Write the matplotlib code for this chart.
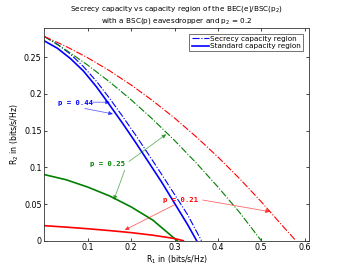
import matplotlib
matplotlib.use("Agg")
from matplotlib import pyplot as plt

# standard capacity regions (solid) and secrecy capacity regions (dash-dot)
r1_std_44 = [0, 0.03, 0.06, 0.09, 0.12, 0.15, 0.18, 0.21, 0.24, 0.27, 0.30, 0.33, 0.351]
r2_std_44 = [0.272, 0.262, 0.248, 0.231, 0.2095, 0.185, 0.160, 0.134, 0.107, 0.080, 0.051, 0.022, 0.0]
r1_sec_44 = [0, 0.03, 0.06, 0.09, 0.12, 0.15, 0.18, 0.21, 0.24, 0.27, 0.30, 0.33, 0.362]
r2_sec_44 = [0.278, 0.2675, 0.254, 0.237, 0.217, 0.194, 0.1695, 0.144, 0.1175, 0.0905, 0.063, 0.0355, 0.0]

r1_std_25 = [0, 0.05, 0.1, 0.15, 0.2, 0.25, 0.306]
r2_std_25 = [0.090, 0.083, 0.073, 0.061, 0.046, 0.028, 0.0]
r1_sec_25 = [0, 0.05, 0.1, 0.15, 0.2, 0.25, 0.3, 0.35, 0.4, 0.45, 0.5]
r2_sec_25 = [0.278, 0.2595, 0.239, 0.2164, 0.1918, 0.1652, 0.1365, 0.1059, 0.0732, 0.0385, 0.0]

r1_std_21 = [0, 0.05, 0.1, 0.15, 0.2, 0.25, 0.3, 0.32]
r2_std_21 = [0.0205, 0.0185, 0.0163, 0.0138, 0.011, 0.0075, 0.003, 0.0]
r1_sec_21 = [0, 0.05, 0.1, 0.15, 0.2, 0.25, 0.3, 0.35, 0.4, 0.45, 0.5, 0.55, 0.58]
r2_sec_21 = [0.278, 0.2645, 0.249, 0.2315, 0.212, 0.1905, 0.167, 0.1415, 0.114, 0.0845, 0.053, 0.0195, 0.0]

blue, green, red = '#0000ff', '#008000', '#ff0000'

fig = plt.figure(figsize=(3.42, 2.72), dpi=100)
ax = fig.add_axes([0.130, 0.115, 0.7735, 0.783])

ax.plot(r1_sec_44, r2_sec_44, '-.', color=blue, lw=0.8, label='Secrecy capacity region')
ax.plot(r1_std_44, r2_std_44, '-', color=blue, lw=1.2, label='Standard capacity region')
ax.plot(r1_sec_25, r2_sec_25, '-.', color=green, lw=0.8)
ax.plot(r1_std_25, r2_std_25, '-', color=green, lw=1.2)
ax.plot(r1_sec_21, r2_sec_21, '-.', color=red, lw=0.8)
ax.plot(r1_std_21, r2_std_21, '-', color=red, lw=1.2)

txt = dict(family=['DejaVu Sans Mono'], weight='bold', fontsize=5.2)


def note(label, xy_text, targets, color, ha='left'):
    # one text, several arrows pointing at the curves
    ax.text(xy_text[0], xy_text[1], label, color=color, ha=ha, va='center', **txt)
    for src, dst in targets:
        ax.annotate('', xy=dst, xytext=src,
                    arrowprops=dict(arrowstyle='-|>', color=color, lw=0.6, alpha=0.6,
                                    mutation_scale=6, shrinkA=0, shrinkB=0))


note('p = 0.44', (0.031, 0.1876),
     [((0.112, 0.1886), (0.151, 0.1886)), ((0.093, 0.180), (0.158, 0.1726))], blue)
note('p = 0.25', (0.106, 0.104),
     [((0.195, 0.108), (0.281, 0.145)), ((0.185, 0.096), (0.160, 0.0555))], green)
note('p = 0.21', (0.273, 0.0554),
     [((0.365, 0.0554), (0.52, 0.0395)), ((0.30, 0.049), (0.185, 0.0146))], red)

ax.set_xlim(0, 0.61)
ax.set_ylim(0, 0.29)
ax.set_xticks([0.1, 0.2, 0.3, 0.4, 0.5, 0.6])
ax.set_xticklabels(['0.1', '0.2', '0.3', '0.4', '0.5', '0.6'])
ax.set_yticks([0, 0.05, 0.1, 0.15, 0.2, 0.25])
ax.set_yticklabels(['0', '0.05', '0.1', '0.15', '0.2', '0.25'])
ax.tick_params(direction='in', top=True, right=True, labelsize=5.8, length=2.5, width=0.5, pad=2)
for s in ax.spines.values():
    s.set_linewidth(0.6)
    s.set_color('#333333')

ax.set_xlabel('R$_1$ in (bits/s/Hz)', fontsize=5.6, labelpad=1)
ax.set_ylabel('R$_2$ in (bits/s/Hz)', fontsize=5.6, labelpad=2)
# two title lines placed separately so the subscripts do not push them off the top
fig.text(0.5165, 1 - 9 / 272, 'Secrecy capacity vs capacity region of the BEC(e)/BSC(p$_2$)',
         fontsize=5.2, ha='center', va='center')
fig.text(0.5165, 1 - 21 / 272, 'with a BSC(p) eavesdropper and p$_2$ = 0.2',
         fontsize=5.2, ha='center', va='center')

leg = ax.legend(loc='upper right', fontsize=5.2, fancybox=False, handlelength=2.4,
                borderpad=0.3, labelspacing=0.2, handletextpad=0.2, borderaxespad=0.8)
leg.get_frame().set_edgecolor('#333333')
leg.get_frame().set_linewidth(0.6)

fig.savefig('out.png', dpi=100)
